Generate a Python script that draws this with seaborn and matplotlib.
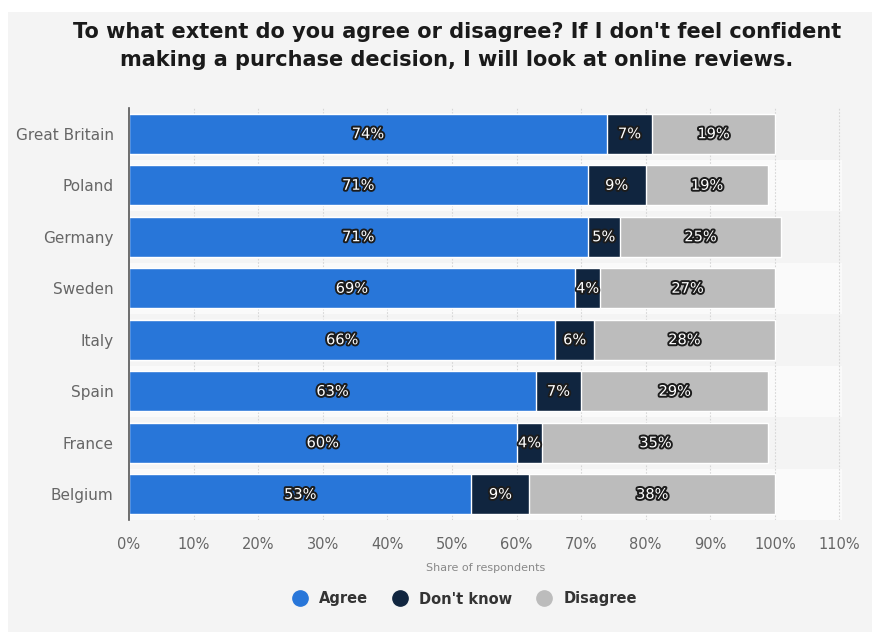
import matplotlib
matplotlib.use("Agg")
import matplotlib.pyplot as plt
import matplotlib.patheffects as pe
from matplotlib.patches import Rectangle
from matplotlib.lines import Line2D
import seaborn as sns
import pandas as pd
import numpy as np

countries = ["Great Britain", "Poland", "Germany", "Sweden", "Italy", "Spain", "France", "Belgium"]
agree = [74, 71, 71, 69, 66, 63, 60, 53]
dont_know = [7, 9, 5, 4, 6, 7, 4, 9]
disagree = [19, 19, 25, 27, 28, 29, 35, 38]
xticks = [0, 10, 20, 30, 40, 50, 60, 70, 80, 90, 100, 110]

C_AGREE = "#2876d9"
C_DK = "#10253f"
C_DIS = "#bcbcbc"
PANEL = "#f4f4f4"

sns.set_theme(style="white")
plt.rcParams["font.family"] = ["DejaVu Sans"]

df = pd.DataFrame({"country": countries, "agree": agree,
                   "dont_know": dont_know, "disagree": disagree})
df["cum_dk"] = df["agree"] + df["dont_know"]
df["cum_total"] = df["cum_dk"] + df["disagree"]

fig = plt.figure(figsize=(8.72, 6.32), dpi=100, facecolor="white")
fig.patches.append(Rectangle((8 / 872, 0), 1, 1 - 12 / 632, transform=fig.transFigure,
                             facecolor=PANEL, edgecolor="none", zorder=-10))

ax = fig.add_axes([129 / 872, 1 - 520 / 632, (842 - 129) / 872, (520 - 108) / 632])
ax.set_facecolor("none")

# alternating row bands
for i in range(len(countries)):
    ax.axhspan(i - 0.5, i + 0.5, color="#f4f4f4" if i % 2 == 0 else "#fafafa",
               zorder=0, lw=0)

for x in xticks[1:]:
    ax.axvline(x, color="#d6d6d6", lw=0.8, ls=(0, (1.5, 1.5)), zorder=0.5)

bar_kw = dict(orient="h", width=0.78, edgecolor="white", linewidth=1.0, ax=ax, zorder=2)
sns.barplot(data=df, y="country", x="cum_total", color=C_DIS, saturation=1, **bar_kw)
sns.barplot(data=df, y="country", x="cum_dk", color=C_DK, saturation=1, **bar_kw)
sns.barplot(data=df, y="country", x="agree", color=C_AGREE, saturation=1, **bar_kw)

stroke = [pe.withStroke(linewidth=2.8, foreground="#1c1c1c")]
for i, row in df.iterrows():
    segs = [(0, row["agree"]), (row["agree"], row["dont_know"]),
            (row["cum_dk"], row["disagree"])]
    for start, val in segs:
        ax.text(start + val / 2, i, f"{val}%", ha="center", va="center",
                color="white", fontsize=10.5, path_effects=stroke, zorder=5)

ax.set_xlim(0, 110.4)
ax.set_ylim(len(countries) - 0.5, -0.5)
ax.set_xticks(xticks)
ax.set_xticklabels([f"{t}%" for t in xticks], color="#666666", fontsize=10.5)
ax.tick_params(axis="y", labelsize=11, labelcolor="#666666", length=0, pad=11)
ax.tick_params(axis="x", length=0, pad=12)
ax.set_ylabel("")
ax.set_xlabel("Share of respondents", color="#888888", fontsize=8, labelpad=8)
for s in ["top", "right", "bottom"]:
    ax.spines[s].set_visible(False)
ax.spines["left"].set_color("#555555")
ax.spines["left"].set_linewidth(1.2)
ax.spines["left"].set_zorder(6)

fig.text(457 / 872, 1 - 46 / 632,
         "To what extent do you agree or disagree? If I don't feel confident\n"
         "making a purchase decision, I will look at online reviews.",
         ha="center", va="center", fontsize=15, fontweight="bold",
         color="#1a1a1a", linespacing=1.55)

handles = [Line2D([], [], marker="o", ls="", markersize=11, color=c)
           for c in (C_AGREE, C_DK, C_DIS)]
leg = fig.legend(handles, ["Agree", "Don't know", "Disagree"], loc="center",
                 bbox_to_anchor=(461 / 872, 1 - 599 / 632), ncol=3, frameon=False,
                 handletextpad=0.3, columnspacing=1.2, prop={"weight": "bold", "size": 10.5})
for t in leg.get_texts():
    t.set_color("#333333")

fig.savefig("out.png", dpi=100, facecolor="white")
